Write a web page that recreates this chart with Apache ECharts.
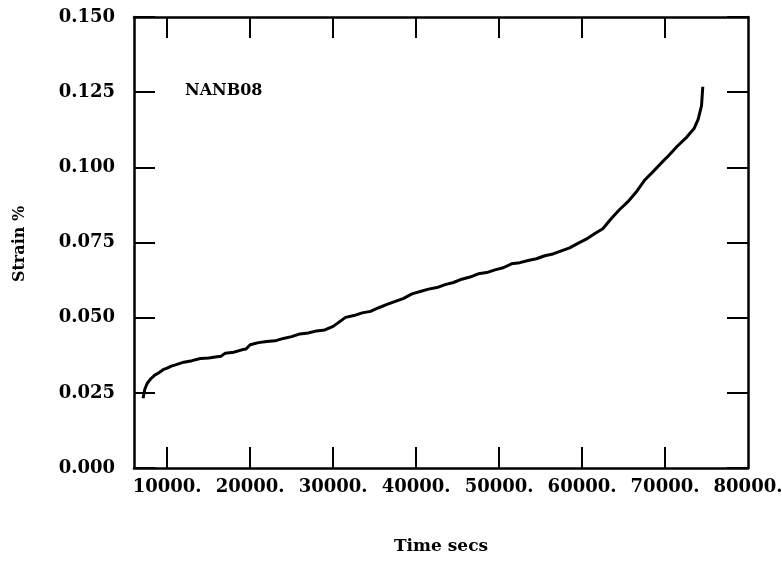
<!DOCTYPE html>
<html>
<head>
<meta charset="utf-8">
<script src="https://cdn.jsdelivr.net/npm/echarts@6/dist/echarts.min.js"></script>
<style>
html,body{margin:0;padding:0;background:#fff;}
#chart{width:782px;height:561px;}
</style>
</head>
<body>
<div id="chart"></div>
<script>
// Data
const timeSecs = [7100, 7300, 7600, 8000, 8500, 9000, 9500, 10000, 10500, 11000, 12000, 13000, 14000, 15000, 16000, 16500, 17000, 18000, 19000, 19500, 20000, 21000, 22000, 23000, 24000, 25000, 26000, 27000, 28000, 29000, 30000, 30500, 31500, 32500, 33500, 34500, 35500, 36500, 37500, 38500, 39500, 40500, 41500, 42500, 43500, 44500, 45500, 46500, 47500, 48500, 49500, 50500, 51500, 52500, 53500, 54500, 55500, 56500, 57500, 58500, 59500, 60500, 61500, 62500, 63500, 64500, 65500, 66500, 67500, 68500, 69500, 70500, 71500, 72500, 73500, 74000, 74400, 74550];
const strainPct = [0.0232, 0.0262, 0.0282, 0.0296, 0.0309, 0.0317, 0.0327, 0.0332, 0.0339, 0.0343, 0.0352, 0.0357, 0.0364, 0.0366, 0.0370, 0.0372, 0.0382, 0.0385, 0.0393, 0.0396, 0.0410, 0.0417, 0.0421, 0.0423, 0.0431, 0.0437, 0.0446, 0.0449, 0.0456, 0.0459, 0.0471, 0.0481, 0.0501, 0.0507, 0.0516, 0.0521, 0.0533, 0.0544, 0.0554, 0.0564, 0.0579, 0.0587, 0.0595, 0.0600, 0.0610, 0.0617, 0.0628, 0.0635, 0.0646, 0.0650, 0.0659, 0.0666, 0.0679, 0.0683, 0.0690, 0.0696, 0.0706, 0.0712, 0.0722, 0.0732, 0.0747, 0.0761, 0.0779, 0.0796, 0.0829, 0.0859, 0.0885, 0.0917, 0.0956, 0.0984, 0.1013, 0.1041, 0.1071, 0.1097, 0.1129, 0.1160, 0.1205, 0.1268];
const xTicks = [10000, 20000, 30000, 40000, 50000, 60000, 70000, 80000];
const seriesLabel = 'NANB08';
const xTitle = 'Time secs';
const yTitle = 'Strain %';

const FONT = '"DejaVu Serif", serif';
const chart = echarts.init(document.getElementById('chart'), null, {renderer: 'canvas'});
const pts = timeSecs.map((t, i) => [t, strainPct[i]]);
const axLine = {show: true, onZero: false, lineStyle: {color: '#000', width: 2.5}};
const tick = {show: true, inside: true, length: 21, lineStyle: {color: '#000', width: 2}};

chart.setOption({
  backgroundColor: '#fff',
  animation: false,
  grid: {left: 134, right: 34, top: 17, bottom: 93, outerBoundsMode: 'none', containLabel: false},
  xAxis: [{
    type: 'value', position: 'bottom', min: 6000, max: 80000,
    axisLine: axLine,
    axisTick: Object.assign({}, tick, {customValues: xTicks.slice(0, 7)}),
    axisLabel: {customValues: xTicks, formatter: v => v + '.', color: '#000', fontFamily: FONT, fontWeight: 'bold', fontSize: 18, margin: 10},
    splitLine: {show: false},
    name: xTitle, nameLocation: 'middle', nameGap: 70,
    nameTextStyle: {color: '#000', fontFamily: FONT, fontWeight: 'bold', fontSize: 17}
  }, {
    type: 'value', position: 'top', min: 6000, max: 80000,
    axisLine: axLine,
    axisTick: Object.assign({}, tick, {customValues: xTicks.slice(0, 7)}),
    axisLabel: {show: false}, splitLine: {show: false}
  }],
  yAxis: [{
    type: 'value', position: 'left', min: 0, max: 0.15, interval: 0.025,
    axisLine: axLine, axisTick: tick,
    axisLabel: {formatter: v => v.toFixed(3), color: '#000', fontFamily: FONT, fontWeight: 'bold', fontSize: 18, margin: 19},
    splitLine: {show: false}
  }, {
    type: 'value', position: 'right', min: 0, max: 0.15, interval: 0.025,
    axisLine: axLine, axisTick: tick,
    axisLabel: {show: false}, splitLine: {show: false}
  }],
  graphic: [
    {type: 'text', x: 20, y: 244, rotation: Math.PI / 2,
     style: {text: yTitle, fill: '#000', font: 'bold 16px ' + FONT, textAlign: 'center', textVerticalAlign: 'middle'}},
    {type: 'text', x: 185, y: 91,
     style: {text: seriesLabel, fill: '#000', font: 'bold 16px ' + FONT, textAlign: 'left', textVerticalAlign: 'middle'}}
  ],
  series: [{
    type: 'line', data: pts, xAxisIndex: 0, yAxisIndex: 0,
    showSymbol: false, symbol: 'none', smooth: false,
    lineStyle: {color: '#000', width: 3}
  }]
});
</script>
</body>
</html>
